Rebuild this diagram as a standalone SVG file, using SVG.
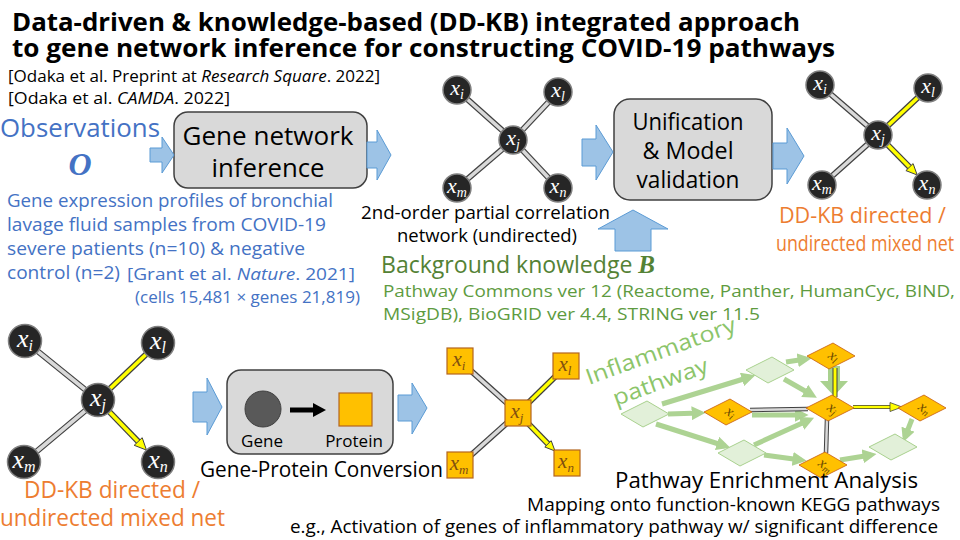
<svg xmlns="http://www.w3.org/2000/svg" width="960" height="540" viewBox="0 0 960 540">
<style>
.t{font-family:"Open Sans","Noto Sans","Liberation Sans",sans-serif}
.title{font-weight:bold;font-size:24.5px;fill:#000}
.blue{fill:#4472c4}
.orange{fill:#ed7d31}
.green{fill:#548235}
.green2{fill:#5e9b3f}
.blk{fill:#000}
.mb{font-family:"Liberation Serif","DejaVu Serif",serif;font-style:italic;font-weight:bold}
.barrow{fill:#9dc3e6;stroke:#5b9bd5;stroke-width:1}
.box{fill:#d9d9d9;stroke:#404040;stroke-width:1.5}
.node{fill:#262626;stroke:#808080;stroke-width:1.5}
.nt{font-family:"Liberation Serif","DejaVu Serif",serif;font-style:italic;fill:#fff;text-anchor:middle}
.eo{stroke:#404040;stroke-width:6}
.eg{stroke:#d9d9d9;stroke-width:3.6}
.ey{stroke:#ffff00;stroke-width:3.6}
.yh{fill:#ffff00;stroke:#404040;stroke-width:1}
.sq{fill:#ffc000;stroke:#b4651e;stroke-width:1.2}
.st{font-family:"Liberation Serif","DejaVu Serif",serif;font-style:italic;fill:#7f4f10;text-anchor:middle}
.gd{fill:#e2f0d9;stroke:#a9d18e;stroke-width:1}
.od{fill:#ffc000;stroke:#c55a11;stroke-width:0.8}
.dt{font-family:"Liberation Serif","DejaVu Serif",serif;font-style:italic;fill:#6b4a00;font-size:15px;text-anchor:middle}
.ga{stroke:#a9d18e;stroke-width:5;fill:none;marker-end:url(#gh);opacity:0.95}
</style>
<defs>
<marker id="gh" viewBox="0 0 10 10" refX="6" refY="5" markerWidth="2.8" markerHeight="2.8" orient="auto" markerUnits="strokeWidth">
<path d="M0,0 L10,5 L0,10 z" fill="#a9d18e"/>
</marker>
<polygon id="dia" points="2,-13 24,0 -2,13 -24,0"/>
</defs>

<!-- Title and texts -->
<text class="t title" x="12" y="31" textLength="788" lengthAdjust="spacingAndGlyphs">Data-driven &amp; knowledge-based (DD-KB) integrated approach</text>
<text class="t title" x="12" y="57" textLength="823" lengthAdjust="spacingAndGlyphs">to gene network inference for constructing COVID-19 pathways</text>
<text class="t blk" x="8" y="82" font-size="17" textLength="372" lengthAdjust="spacingAndGlyphs">[Odaka et al. Preprint at <tspan font-style="italic">Research Square</tspan>. 2022]</text>
<text class="t blk" x="8" y="104" font-size="17" textLength="222" lengthAdjust="spacingAndGlyphs">[Odaka et al. <tspan font-style="italic">CAMDA</tspan>. 2022]</text>

<g id="observations">
<text class="t blue" x="0" y="137" font-size="25" textLength="160" lengthAdjust="spacingAndGlyphs">Observations</text>
<text class="mb blue" x="80" y="175" font-size="32" text-anchor="middle">O</text>
<text class="t blue" x="7" y="207" font-size="19" textLength="326" lengthAdjust="spacingAndGlyphs">Gene expression profiles of bronchial</text>
<text class="t blue" x="7" y="231" font-size="19" textLength="319" lengthAdjust="spacingAndGlyphs">lavage fluid samples from COVID-19</text>
<text class="t blue" x="7" y="255" font-size="19" textLength="298" lengthAdjust="spacingAndGlyphs">severe patients (n=10) &amp; negative</text>
<text class="t blue" x="7" y="279" font-size="19" textLength="113" lengthAdjust="spacingAndGlyphs">control (n=2)</text>
<text class="t blue" x="127" y="280" font-size="17" textLength="228" lengthAdjust="spacingAndGlyphs">[Grant et al. <tspan font-style="italic">Nature</tspan>. 2021]</text>
<text class="t blue" x="135" y="303" font-size="17" textLength="225" lengthAdjust="spacingAndGlyphs">(cells 15,481 × genes 21,819)</text>
</g>

<g id="gene-network-inference">
<rect class="box" x="174" y="112" width="193" height="76" rx="14"/>
<text class="t blk" x="268" y="145" font-size="26" text-anchor="middle" textLength="171" lengthAdjust="spacingAndGlyphs">Gene network</text>
<text class="t blk" x="268" y="177" font-size="26" text-anchor="middle" textLength="113" lengthAdjust="spacingAndGlyphs">inference</text>
</g>

<g id="unification">
<rect class="box" x="614" y="99" width="158" height="101" rx="16"/>
<text class="t blk" x="688" y="130" font-size="23" text-anchor="middle" textLength="111" lengthAdjust="spacingAndGlyphs">Unification</text>
<text class="t blk" x="688" y="159" font-size="23" text-anchor="middle" textLength="91" lengthAdjust="spacingAndGlyphs">&amp; Model</text>
<text class="t blk" x="688" y="188" font-size="23" text-anchor="middle" textLength="103" lengthAdjust="spacingAndGlyphs">validation</text>
</g>

<g id="background-knowledge">
<text class="t green" x="381" y="273" font-size="24" textLength="274" lengthAdjust="spacingAndGlyphs">Background knowledge <tspan class="mb" font-size="26">B</tspan></text>
<text class="t green2" x="383" y="297" font-size="17" textLength="572" lengthAdjust="spacingAndGlyphs">Pathway Commons ver 12 (Reactome, Panther, HumanCyc, BIND,</text>
<text class="t green2" x="383" y="320" font-size="17" textLength="377" lengthAdjust="spacingAndGlyphs">MSigDB), BioGRID ver 4.4, STRING ver 11.5</text>
</g>

<g id="gene-protein-conversion">
<rect class="box" x="227" y="370" width="166" height="84" rx="14"/>
<circle cx="263" cy="409" r="18" fill="#595959" stroke="#404040" stroke-width="1"/>
<line x1="290" y1="410" x2="315" y2="410" stroke="#000" stroke-width="5"/>
<polygon points="313,403 326,410 313,417" fill="#000"/>
<rect x="339" y="393" width="33" height="33" fill="#ffc000" stroke="#b4651e" stroke-width="1.2"/>
<text class="t blk" x="262" y="447" font-size="17" text-anchor="middle">Gene</text>
<text class="t blk" x="354" y="447" font-size="17" text-anchor="middle">Protein</text>
<text class="t blk" x="200" y="477" font-size="22" textLength="243" lengthAdjust="spacingAndGlyphs">Gene-Protein Conversion</text>
</g>

<!-- Connectors -->
<g id="connectors">
<polygon class="barrow" points="150,148 162,148 162,137 174,155 162,173 162,162 150,162"/>
<polygon class="barrow" points="367,142 377,142 377,130 391,155 377,180 377,168 367,168"/>
<polygon class="barrow" points="582,139 596,139 596,125 613,152 596,180 596,166 582,166"/>
<polygon class="barrow" points="773,143 787,143 787,128 804,156 787,184 787,169 773,169"/>
<polygon class="barrow" points="615,251 615,229 598,229 633,210 668,229 651,229 651,251"/>
<polygon class="barrow" points="193,392 207,392 207,378 222,407 207,435 207,422 193,422"/>
<polygon class="barrow" points="398,395 412,395 412,383 427,408 412,434 412,421 398,421"/>

<g>
<line class="eo" x1="513" y1="140" x2="457" y2="90"/><line class="eg" x1="513" y1="140" x2="457" y2="90"/>
<line class="eo" x1="513" y1="140" x2="558" y2="92"/><line class="eg" x1="513" y1="140" x2="558" y2="92"/>
<line class="eo" x1="513" y1="140" x2="457" y2="188"/><line class="eg" x1="513" y1="140" x2="457" y2="188"/>
<line class="eo" x1="513" y1="140" x2="558" y2="188"/><line class="eg" x1="513" y1="140" x2="558" y2="188"/>
</g>
<g>
<line class="eo" x1="878" y1="135" x2="820" y2="85"/><line class="eg" x1="878" y1="135" x2="820" y2="85"/>
<line class="eo" x1="878" y1="135" x2="822" y2="185"/><line class="eg" x1="878" y1="135" x2="822" y2="185"/>
<line class="eo" x1="878" y1="135" x2="928" y2="88"/><line class="ey" x1="878" y1="135" x2="928" y2="88"/>
<line class="eo" x1="878" y1="135" x2="910" y2="167.6"/><line class="ey" x1="878" y1="135" x2="910" y2="167.6"/>
<polygon class="yh" points="917.2,175 905.9,170.6 913.1,163.6"/>
</g>
<g>
<line class="eo" x1="98" y1="400" x2="25" y2="341"/><line class="eg" x1="98" y1="400" x2="25" y2="341"/>
<line class="eo" x1="98" y1="400" x2="24" y2="462"/><line class="eg" x1="98" y1="400" x2="24" y2="462"/>
<line class="eo" x1="98" y1="400" x2="158" y2="343"/><line class="ey" x1="98" y1="400" x2="158" y2="343"/>
<line class="eo" x1="98" y1="400" x2="138.8" y2="442.2"/><line class="ey" x1="98" y1="400" x2="138.8" y2="442.2"/>
<polygon class="yh" points="146.5,450.1 134.2,445.3 142.2,437.7"/>
</g>
<g>
<line class="eo" x1="518" y1="413" x2="460" y2="361"/><line class="eg" x1="518" y1="413" x2="460" y2="361"/>
<line class="eo" x1="518" y1="413" x2="460" y2="465"/><line class="eg" x1="518" y1="413" x2="460" y2="465"/>
<line class="eo" x1="518" y1="413" x2="566" y2="366"/><line class="ey" x1="518" y1="413" x2="566" y2="366"/>
<line class="eo" x1="518" y1="413" x2="548.5" y2="444.4"/><line class="ey" x1="518" y1="413" x2="548.5" y2="444.4"/>
<polygon class="yh" points="555,451 544.8,447 551.2,440.7"/>
</g>
<g>
<line class="ga" x1="662" y1="404" x2="750" y2="377"/>
<line class="ga" x1="668" y1="414" x2="700" y2="413"/>
<line class="ga" x1="656" y1="424" x2="725" y2="446"/>
<line class="ga" x1="786" y1="362" x2="806" y2="359"/>
<line class="ga" x1="784" y1="379" x2="812" y2="395"/>
<line class="ga" x1="752" y1="415" x2="803" y2="415"/>
<line class="ga" x1="754" y1="445" x2="809" y2="420"/>
<line class="ga" x1="764" y1="455" x2="801" y2="460"/>
<line class="ga" x1="912" y1="419" x2="905" y2="437"/>
<line class="ga" x1="840" y1="460" x2="871" y2="455"/>
<polygon points="828,366 840,366 840,381 848,381 834,396 820,381 828,381" fill="#a9d18e"/>
<line x1="750" y1="410" x2="808" y2="409" stroke="#404040" stroke-width="4.5"/>
<line x1="750" y1="410" x2="808" y2="409" stroke="#d9d9d9" stroke-width="2.5"/>
<line x1="827" y1="419" x2="826" y2="453" stroke="#404040" stroke-width="4.5"/>
<line x1="827" y1="419" x2="826" y2="453" stroke="#d9d9d9" stroke-width="2.5"/>
<line x1="835" y1="368" x2="835" y2="397" stroke="#404040" stroke-width="5"/>
<line x1="835" y1="368" x2="835" y2="397" stroke="#ffff00" stroke-width="3"/>
<line x1="853" y1="407" x2="891" y2="407" stroke="#404040" stroke-width="4"/>
<line x1="853" y1="407" x2="891" y2="407" stroke="#ffff00" stroke-width="2.4"/>
<polygon points="902,407 890,402.5 890,411.5" fill="#ffff00" stroke="#404040" stroke-width="0.8"/>
</g>
</g>

<g id="n1-xi"><circle class="node" cx="457" cy="90" r="14"/><text class="nt" x="457" y="95" font-size="22">x<tspan font-size="14" dy="4">i</tspan></text></g>
<g id="n1-xl"><circle class="node" cx="558" cy="92" r="14"/><text class="nt" x="558" y="97" font-size="22">x<tspan font-size="14" dy="4">l</tspan></text></g>
<g id="n1-xj"><circle class="node" cx="513" cy="140" r="14"/><text class="nt" x="513" y="145" font-size="22">x<tspan font-size="14" dy="4">j</tspan></text></g>
<g id="n1-xm"><circle class="node" cx="457" cy="188" r="14"/><text class="nt" x="457" y="193" font-size="22">x<tspan font-size="14" dy="4">m</tspan></text></g>
<g id="n1-xn"><circle class="node" cx="558" cy="188" r="14"/><text class="nt" x="558" y="193" font-size="22">x<tspan font-size="14" dy="4">n</tspan></text></g>
<text class="t blk" x="361" y="219" font-size="18" textLength="249" lengthAdjust="spacingAndGlyphs">2nd-order partial correlation</text>
<text class="t blk" x="397" y="242" font-size="18" textLength="180" lengthAdjust="spacingAndGlyphs">network (undirected)</text>

<g id="n2-xi"><circle class="node" cx="820" cy="85" r="14"/><text class="nt" x="820" y="90" font-size="22">x<tspan font-size="14" dy="4">i</tspan></text></g>
<g id="n2-xl"><circle class="node" cx="928" cy="88" r="14"/><text class="nt" x="928" y="93" font-size="22">x<tspan font-size="14" dy="4">l</tspan></text></g>
<g id="n2-xj"><circle class="node" cx="878" cy="135" r="14"/><text class="nt" x="878" y="140" font-size="22">x<tspan font-size="14" dy="4">j</tspan></text></g>
<g id="n2-xm"><circle class="node" cx="822" cy="185" r="14"/><text class="nt" x="822" y="190" font-size="22">x<tspan font-size="14" dy="4">m</tspan></text></g>
<g id="n2-xn"><circle class="node" cx="927" cy="185" r="14"/><text class="nt" x="927" y="190" font-size="22">x<tspan font-size="14" dy="4">n</tspan></text></g>
<text class="t orange" x="779" y="223" font-size="22" textLength="167" lengthAdjust="spacingAndGlyphs">DD-KB directed /</text>
<text class="t orange" x="776" y="251" font-size="22" textLength="178" lengthAdjust="spacingAndGlyphs">undirected mixed net</text>

<g id="n3-xi"><circle class="node" cx="25" cy="341" r="16.5"/><text class="nt" x="25" y="347" font-size="26">x<tspan font-size="16" dy="4">i</tspan></text></g>
<g id="n3-xl"><circle class="node" cx="158" cy="343" r="16.5"/><text class="nt" x="158" y="349" font-size="26">x<tspan font-size="16" dy="4">l</tspan></text></g>
<g id="n3-xj"><circle class="node" cx="98" cy="400" r="16.5"/><text class="nt" x="98" y="406" font-size="26">x<tspan font-size="16" dy="4">j</tspan></text></g>
<g id="n3-xm"><circle class="node" cx="24" cy="462" r="16.5"/><text class="nt" x="24" y="468" font-size="26">x<tspan font-size="16" dy="4">m</tspan></text></g>
<g id="n3-xn"><circle class="node" cx="158" cy="462" r="16.5"/><text class="nt" x="158" y="468" font-size="26">x<tspan font-size="16" dy="4">n</tspan></text></g>
<text class="t orange" x="24" y="498" font-size="23" textLength="176" lengthAdjust="spacingAndGlyphs">DD-KB directed /</text>
<text class="t orange" x="0" y="526" font-size="23" textLength="225" lengthAdjust="spacingAndGlyphs">undirected mixed net</text>

<g id="p-xi"><rect class="sq" x="447" y="348" width="26" height="26"/><text class="st" x="459" y="366" font-size="21">x<tspan font-size="13" dy="4">i</tspan></text></g>
<g id="p-xl"><rect class="sq" x="553" y="353" width="26" height="26"/><text class="st" x="565" y="371" font-size="21">x<tspan font-size="13" dy="4">l</tspan></text></g>
<g id="p-xj"><rect class="sq" x="505" y="400" width="26" height="26"/><text class="st" x="517" y="418" font-size="21">x<tspan font-size="13" dy="4">j</tspan></text></g>
<g id="p-xm"><rect class="sq" x="447" y="452" width="26" height="26"/><text class="st" x="459" y="470" font-size="21">x<tspan font-size="13" dy="4">m</tspan></text></g>
<g id="p-xn"><rect class="sq" x="554" y="450" width="26" height="26"/><text class="st" x="566" y="468" font-size="21">x<tspan font-size="13" dy="4">n</tspan></text></g>

<g id="pw-L"><use href="#dia" class="gd" transform="translate(645,414)"/></g>
<g id="pw-T"><use href="#dia" class="gd" transform="translate(770,370)"/></g>
<g id="pw-B"><use href="#dia" class="gd" transform="translate(742,453)"/></g>
<g id="pw-R"><use href="#dia" class="gd" transform="translate(893,447)"/></g>
<g id="pw-xi"><use href="#dia" class="od" transform="translate(728,412)"/><text class="dt" transform="translate(728,416) rotate(35)">x<tspan font-size="10" dy="2">i</tspan></text></g>
<g id="pw-xl"><use href="#dia" class="od" transform="translate(831,356)"/><text class="dt" transform="translate(831,360) rotate(35)">x<tspan font-size="10" dy="2">l</tspan></text></g>
<g id="pw-xj"><use href="#dia" class="od" transform="translate(830,408)"/><text class="dt" transform="translate(830,412) rotate(35)">x<tspan font-size="10" dy="2">j</tspan></text></g>
<g id="pw-xn"><use href="#dia" class="od" transform="translate(922,408)"/><text class="dt" transform="translate(922,412) rotate(35)">x<tspan font-size="10" dy="2">n</tspan></text></g>
<g id="pw-xm"><use href="#dia" class="od" transform="translate(823,465)"/><text class="dt" transform="translate(823,469) rotate(35)">x<tspan font-size="10" dy="2">m</tspan></text></g>
<text class="t" fill="#8cc56a" font-size="22" transform="translate(589,385) rotate(-20)" textLength="158" lengthAdjust="spacingAndGlyphs">Inflammatory</text>
<text class="t" fill="#8cc56a" font-size="22" transform="translate(616,406) rotate(-20)" textLength="100" lengthAdjust="spacingAndGlyphs">pathway</text>

<text class="t blk" x="615" y="488" font-size="22" textLength="303" lengthAdjust="spacingAndGlyphs">Pathway Enrichment Analysis</text>
<text class="t blk" x="527" y="511" font-size="17.5" textLength="413" lengthAdjust="spacingAndGlyphs">Mapping onto function-known KEGG pathways</text>
<text class="t blk" x="290" y="533" font-size="17.5" textLength="648" lengthAdjust="spacingAndGlyphs">e.g., Activation of genes of inflammatory pathway w/ significant difference</text>
</svg>
